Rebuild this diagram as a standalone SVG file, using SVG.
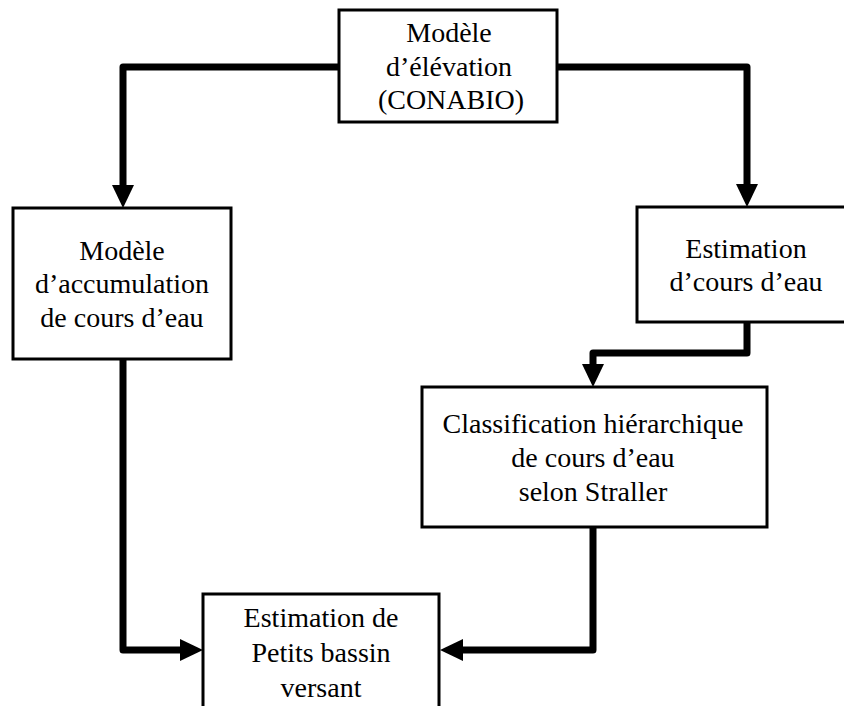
<svg xmlns="http://www.w3.org/2000/svg" width="844" height="706" viewBox="0 0 844 706">
<style>
.box{fill:#fff;stroke:#000;stroke-width:3}
.t{font-family:'Liberation Serif','Times New Roman','DejaVu Serif',serif;font-size:28px;fill:#000;text-anchor:middle}
.c{fill:none;stroke:#000;stroke-width:7;stroke-linejoin:round}
</style>
<defs>
<marker id="ah" viewBox="0 0 23 22" refX="0" refY="11" markerWidth="23" markerHeight="22" markerUnits="userSpaceOnUse" orient="auto">
<path d="M0,0 L23,11 L0,22 z" fill="#000"/>
</marker>
</defs>
<rect width="844" height="706" fill="#fff"/>
<g id="connectors">
<path class="c" d="M339,67 H123 V185" marker-end="url(#ah)"/>
<path class="c" d="M557,67 H747 V184" marker-end="url(#ah)"/>
<path class="c" d="M747,322 V353 H593 V364" marker-end="url(#ah)"/>
<path class="c" d="M123,359 V650 H180" marker-end="url(#ah)"/>
<path class="c" d="M593,527 V650 H463" marker-end="url(#ah)"/>
</g>
<g id="n-elevation" font-family="Liberation Serif, serif">
<rect class="box" x="339" y="10" width="218" height="112"/>
<text class="t" x="449" y="42">Modèle</text>
<text class="t" x="449" y="76">d’élévation</text>
<text class="t" x="451" y="109">(CONABIO)</text>
</g>
<g id="n-accumulation">
<rect class="box" x="13" y="208" width="218" height="151"/>
<text class="t" x="122" y="260">Modèle</text>
<text class="t" x="122" y="293">d’accumulation</text>
<text class="t" x="122" y="327">de cours d’eau</text>
</g>
<g id="n-estimation-cours">
<rect class="box" x="637" y="207" width="220" height="115"/>
<text class="t" x="746" y="258">Estimation</text>
<text class="t" x="746" y="291">d’cours d’eau</text>
</g>
<g id="n-classification">
<rect class="box" x="422" y="387" width="345" height="140"/>
<text class="t" x="593" y="433">Classification hiérarchique</text>
<text class="t" x="593" y="467">de cours d’eau</text>
<text class="t" x="593" y="501">selon Straller</text>
</g>
<g id="n-bassin">
<rect class="box" x="203" y="594" width="236" height="130"/>
<text class="t" x="321" y="627">Estimation de</text>
<text class="t" x="321" y="662">Petits bassin</text>
<text class="t" x="321" y="697">versant</text>
</g>
</svg>
